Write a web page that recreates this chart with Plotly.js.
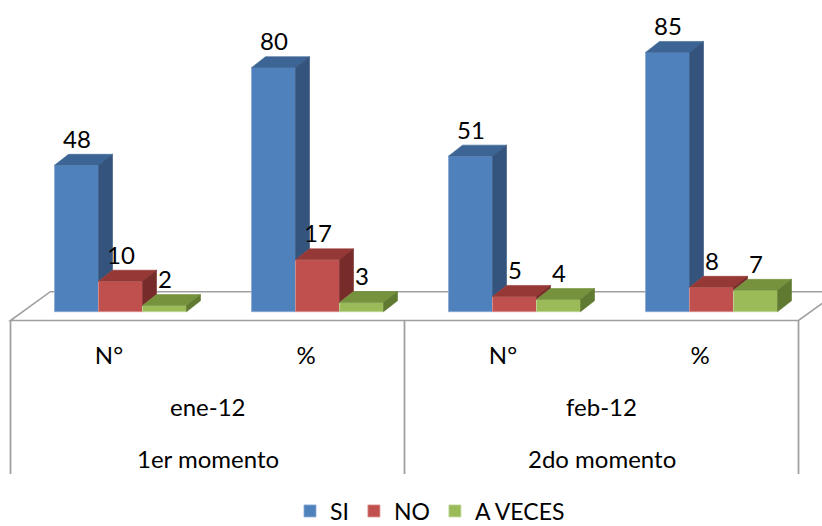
<!DOCTYPE html>
<html>
<head>
<meta charset="utf-8">
<script src="https://cdn.plot.ly/plotly-3.0.1.min.js"></script>
<style>
  html, body { margin: 0; padding: 0; background: #fff; }
</style>
</head>
<body>
<div id="chart" style="width:822px;height:526px"></div>
<script>
// Answers per measure (count and percent) for each survey period
const moments = ['1er momento', '2do momento'];
const months = ['ene-12', 'feb-12'];
const measures = ['N°', '%', 'N°', '%'];
const seriesNames = ['SI', 'NO', 'A VECES'];
const si = [48, 80, 51, 85];
const no = [10, 17, 5, 8];
const aVeces = [2, 3, 4, 7];

const seriesValues = [si, no, aVeces];

// Front, top and side shades of each series (3D look)
const shades = [
  { front: '#4F81BD', top: '#3C6494', side: '#34547E', edge: '#8AAAD3' },
  { front: '#C0504D', top: '#953836', side: '#772C2A', edge: '#D98F8D' },
  { front: '#9BBB59', top: '#76923C', side: '#617A31', edge: '#C0D89A' }
];

const W = 822, H = 526;
const FONT = 'Lato, "Open Sans", "Liberation Sans", sans-serif';
const FS = 24;

// Pixel geometry of the drawing plane
const catPx = 197;       // distance between category centres
const firstCatPx = 120.5; // centre of first category
const basePx = 311.7;     // value 0
const unitPx = 3.05;      // pixels per value unit
const depthPx = { x: 14, y: 11 };          // bar depth
const floorFront = { x: -11.5, y: -8.8 };  // floor front edge relative to bar plane
const floorBack = { x: 28.3, y: 20 };      // floor back edge relative to bar plane
const dividerBottomPx = 474;
const rowPx = [354, 406.5, 458];          // centre of each label row
const legendPx = 511;
const barGap = 1 - 132 / catPx;

const xRange = [-firstCatPx / catPx, (W - firstCatPx) / catPx];
const yRange = [-(H - basePx) / unitPx, basePx / unitPx];
const dxU = px => px / catPx;
const dyU = px => px / unitPx;
const paperY = py => 1 - py / H;

const nCat = measures.length;
const nSer = seriesValues.length;
const barW = (1 - barGap) / nSer;
const catX = measures.map((_, i) => i);

const traces = [];

// Front faces: regular grouped bars
seriesValues.forEach((vals, s) => {
  traces.push({
    type: 'bar',
    name: seriesNames[s],
    x: catX,
    y: vals,
    marker: { color: shades[s].front, line: { color: shades[s].edge, width: 0.8 } },
    hoverinfo: 'name+y'
  });
});

// Top and side faces drawn as filled polygons after each series
seriesValues.forEach((vals, s) => {
  const topX = [], topY = [], sideX = [], sideY = [];
  vals.forEach((v, c) => {
    const xc = c + (s - (nSer - 1) / 2) * barW;
    const x0 = xc - barW / 2, x1 = xc + barW / 2;
    const ddx = dxU(depthPx.x), ddy = dyU(depthPx.y);
    topX.push(x0, x1, x1 + ddx, x0 + ddx, x0, null);
    topY.push(v, v, v + ddy, v + ddy, v, null);
    const next = s < nSer - 1 ? seriesValues[s + 1][c] : 0;
    const b = Math.min(v, next);
    if (b < v) {
      sideX.push(x1, x1 + ddx, x1 + ddx, x1, x1, null);
      sideY.push(b, b + ddy, v + ddy, v, b, null);
    }
  });
  [[topX, topY, shades[s].top], [sideX, sideY, shades[s].side]].forEach(([xs, ys, col]) => {
    traces.push({
      type: 'scatter',
      mode: 'lines',
      x: xs,
      y: ys,
      fill: 'toself',
      fillcolor: col,
      line: { color: col, width: 0.6 },
      hoverinfo: 'skip',
      showlegend: false
    });
  });
});

// Floor and table dividers
const shapes = [];
const fl = -0.5, fr = nCat - 0.5;
const fy = dyU(floorFront.y), by = dyU(floorBack.y);
const floorPath = 'M' + (fl + dxU(floorFront.x)) + ',' + fy +
  ' L' + (fr + dxU(floorFront.x)) + ',' + fy +
  ' L' + (fr + dxU(floorBack.x)) + ',' + by +
  ' L' + (fl + dxU(floorBack.x)) + ',' + by + ' Z';
shapes.push({
  type: 'path', xref: 'x', yref: 'y', path: floorPath, layer: 'below',
  fillcolor: '#FFFFFF', line: { color: '#A0A0A0', width: 1.6 }
});
const perMonth = nCat / months.length;
const yBottom = (basePx - dividerBottomPx) / unitPx;
for (let k = 0; k <= months.length; k++) {
  const xb = k * perMonth - 0.5 + dxU(floorFront.x);
  shapes.push({
    type: 'line', xref: 'x', yref: 'y', layer: 'below',
    x0: xb, x1: xb, y0: fy, y1: yBottom,
    line: { color: '#A0A0A0', width: 1.8 }
  });
}

// Value labels above each bar, plus the period rows of the axis
const annotations = [];
seriesValues.forEach((vals, s) => {
  vals.forEach((v, c) => {
    annotations.push({
      x: c + (s - (nSer - 1) / 2) * barW, y: v, xref: 'x', yref: 'y',
      text: String(v), showarrow: false, yanchor: 'middle', yshift: 27,
      font: { family: FONT, size: FS, color: '#000' }
    });
  });
});
months.forEach((m, k) => {
  const xm = k * perMonth + (perMonth - 1) / 2 + dxU(floorFront.x);
  annotations.push({
    x: xm, y: paperY(rowPx[1]), xref: 'x', yref: 'paper', text: m,
    showarrow: false, yanchor: 'middle', font: { family: FONT, size: FS, color: '#000' }
  });
  annotations.push({
    x: xm, y: paperY(rowPx[2]), xref: 'x', yref: 'paper', text: moments[k],
    showarrow: false, yanchor: 'middle', font: { family: FONT, size: FS, color: '#000' }
  });
});

const layout = {
  width: W,
  height: H,
  margin: { l: 0, r: 0, t: 0, b: 0, pad: 0, autoexpand: false },
  paper_bgcolor: '#FFFFFF',
  plot_bgcolor: '#FFFFFF',
  barmode: 'group',
  bargap: barGap,
  bargroupgap: 0,
  font: { family: FONT, size: FS, color: '#000' },
  xaxis: {
    range: xRange,
    showgrid: false, zeroline: false, showline: false, ticks: '',
    tickmode: 'array',
    tickvals: catX.map(c => c + dxU(floorFront.x)),
    ticktext: measures,
    tickfont: { family: FONT, size: FS, color: '#000' },
    anchor: 'free',
    position: paperY(basePx - floorFront.y),
    ticklabelstandoff: 18,
    automargin: false,
    fixedrange: true
  },
  yaxis: { range: yRange, visible: false, fixedrange: true },
  showlegend: true,
  legend: {
    orientation: 'h',
    x: 290 / W, xanchor: 'left',
    y: paperY(legendPx), yanchor: 'middle',
    font: { family: FONT, size: 23, color: '#000' },
    itemwidth: 30,
    bgcolor: 'rgba(0,0,0,0)'
  },
  shapes: shapes,
  annotations: annotations
};

Plotly.newPlot('chart', traces, layout, { displayModeBar: false, staticPlot: true });
</script>
</body>
</html>
